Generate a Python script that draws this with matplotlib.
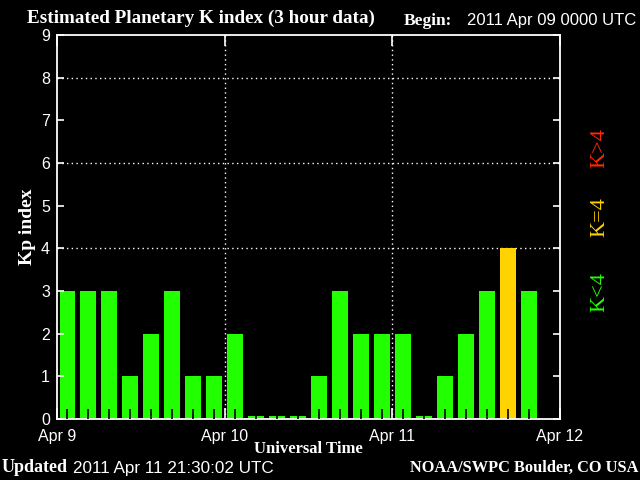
import matplotlib
matplotlib.use('Agg')
import matplotlib.pyplot as plt
import numpy as np

# Kp values, 3-hour slots starting 2011 Apr 09 00 UTC
kp = [3, 3, 3, 1, 2, 3, 1, 1,
      2, 0, 0, 0, 1, 3, 2, 2,
      2, 0, 1, 2, 3, 4, 3]
day_labels = ['Apr 9', 'Apr 10', 'Apr 11', 'Apr 12']

green = '#22ff00'
yellow = '#ffd200'
red = '#ff2a00'

kp = np.array(kp, dtype=float)
slot = 0.125  # 3 hours in days
x = np.arange(len(kp)) * slot + slot / 2
colors = [green if v < 4 else (yellow if v == 4 else red) for v in kp]

fig = plt.figure(figsize=(6.4, 4.8), dpi=100)
fig.patch.set_facecolor('black')
ax = fig.add_axes([57/640, 61/480, 503/640, 384/480])
ax.set_facecolor('black')

# zero values still show a thin sliver, as in the original
ax.bar(x, np.maximum(kp, 0.07), width=0.095, color=colors, zorder=2)

ax.set_xlim(0, 3)
ax.set_ylim(0, 9)
ax.set_xticks([0, 1, 2, 3])
ax.set_xticklabels(day_labels)
ax.set_xticks(x, minor=True)
ax.set_yticks(range(10))
ax.set_axisbelow(False)

ax.tick_params(axis='both', which='major', direction='in', colors='white',
               labelsize=11.5, width=1.2)
ax.tick_params(axis='x', which='major', length=8, top=True, pad=7)
ax.tick_params(axis='y', which='major', length=5, right=True, pad=5)
ax.tick_params(axis='x', which='minor', direction='in', length=7,
               color='black', width=1.2, top=False)
for lab in ax.get_xticklabels() + ax.get_yticklabels():
    lab.set_family('Liberation Sans')

dots = (0, (1, 2.4))
for yv in [4, 6, 8]:
    ax.axhline(yv, color='white', linestyle=dots, linewidth=1, zorder=1)
for xv in [1, 2]:
    ax.axvline(xv, color='white', linestyle=dots, linewidth=1, zorder=3)

for spine in ax.spines.values():
    spine.set_edgecolor('white')
    spine.set_linewidth(1.3)

serif = 'Liberation Serif'
sans = 'Liberation Sans'
ax.set_ylabel('Kp index', color='white', family=serif, fontweight='bold',
              fontsize=14, labelpad=4)
ax.set_xlabel('Universal Time', color='white', family=serif, fontweight='bold',
              fontsize=12, labelpad=-2)

fig.text(27/640, 1 - 18/480, 'Estimated Planetary K index (3 hour data)',
         color='white', family=serif, fontweight='bold', fontsize=13.8,
         va='center', ha='left')
fig.text(404/640, 1 - 21/480, 'Begin:', color='white', family=serif,
         fontweight='bold', fontsize=12.5, va='center', ha='left')
fig.text(467/640, 1 - 21/480, '2011 Apr 09 0000 UTC', color='white',
         family=sans, fontsize=12, va='center', ha='left')
fig.text(2/640, 1 - 468/480, 'Updated', color='white', family=serif,
         fontweight='bold', fontsize=13, va='center', ha='left')
fig.text(73/640, 1 - 468/480, '2011 Apr 11 21:30:02 UTC', color='white',
         family=sans, fontsize=12.3, va='center', ha='left')
fig.text(638/640, 1 - 468/480, 'NOAA/SWPC Boulder, CO USA', color='white',
         family=serif, fontweight='bold', fontsize=11.8, va='center', ha='right')

for label, col, yc in [('K<4', green, 292), ('K=4', yellow, 217), ('K>4', red, 148)]:
    fig.text(600/640, 1 - yc/480, label, color=col, family=serif,
             fontsize=16, rotation=90, ha='center', va='center')

fig.savefig('out.png', dpi=100, facecolor=fig.get_facecolor())
